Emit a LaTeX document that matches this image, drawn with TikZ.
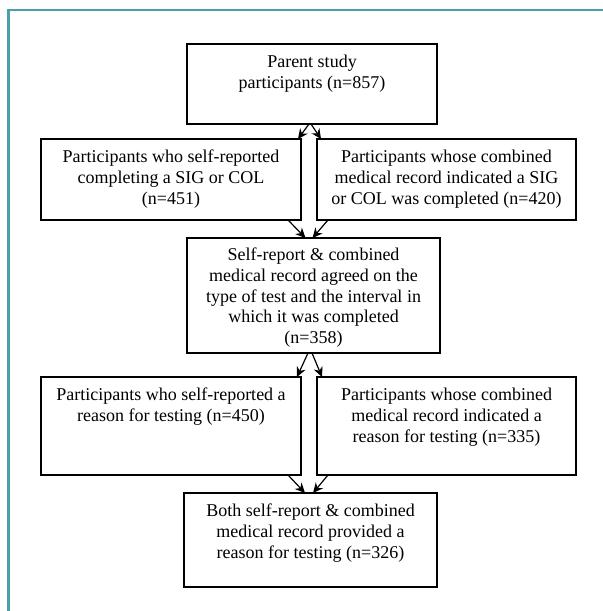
\documentclass[tikz,border=0pt]{standalone}
\usepackage{fontspec}
\setmainfont{Liberation Serif}
\usetikzlibrary{calc,arrows.meta}
\definecolor{frameteal}{RGB}{74,160,170}
\tikzset{
  box/.style={draw=black, line width=1.5pt, rectangle, inner sep=0pt, outer sep=0pt},
  txt/.style={anchor=north, inner sep=0pt, align=center, font=\fontsize{13.5pt}{15.5pt}\selectfont},
  arr/.style={line width=0.9pt, -{Stealth[length=7.5pt,width=7pt]}},
}
\begin{document}
\begin{tikzpicture}[x=0.75pt,y=-0.75pt]
\useasboundingbox (0,0) rectangle (603,611);
\fill[white] (0,0) rectangle (603,611);
\draw[frameteal, line width=1.6pt] (8.5,611) -- (8.5,10) -- (603,10);

\node[box, minimum width=187.5pt, minimum height=60pt] (b1) at (312,84) {};
\node[box, minimum width=195pt, minimum height=60.75pt] (b2L) at (171,179.5) {};
\node[box, minimum width=194.25pt, minimum height=60.75pt] (b2R) at (446.5,179.5) {};
\node[box, minimum width=189.75pt, minimum height=86.25pt] (b3) at (313.5,295.5) {};
\node[box, minimum width=195pt, minimum height=73.5pt] (b4L) at (171,426) {};
\node[box, minimum width=194.25pt, minimum height=73.5pt] (b4R) at (446.5,426) {};
\node[box, minimum width=189.75pt, minimum height=70.5pt] (b5) at (310.5,540) {};

\node[txt] (t1) at ($(b1.north)+(0,11)$) {Parent study\\participants (n=857)};
\node[txt] (t2L) at ($(b2L.north)+(0,11)$) {Participants who self-reported\\completing a SIG or COL\\(n=451)};
\node[txt] (t2R) at ($(b2R.north)+(0,11)$) {Participants whose combined\\medical record indicated a SIG\\or COL was completed (n=420)};
\node[txt] (t3) at ($(b3.north)+(0,10)$) {Self-report \& combined\\medical record agreed on the\\type of test and the interval in\\which it was completed\\(n=358)};
\node[txt] (t4L) at ($(b4L.north)+(0,11)$) {Participants who self-reported a\\reason for testing (n=450)};
\node[txt] (t4R) at ($(b4R.north)+(0,11)$) {Participants whose combined\\medical record indicated a\\reason for testing (n=335)};
\node[txt] (t5) at ($(b5.north)+(0,11)$) {Both self-report \& combined\\medical record provided a\\reason for testing (n=326)};

\draw[arr] ($(b1.south)+(-3,0)$) -- ($(b2L.north east)+(-3,0)$);
\draw[arr] ($(b1.south)+(-1,0)$) -- ($(b2R.north west)+(4,0)$);
\draw[arr] ($(b2L.south east)+(-13,0)$) -- ($(b3.north)+(-8,0)$);
\draw[arr] ($(b2R.south west)+(11,0)$) -- ($(b3.north)+(-1,0)$);
\draw[arr] ($(b3.south)+(-5.5,0)$) -- ($(b4L.north east)+(-4,0)$);
\draw[arr] ($(b3.south)+(-1.5,0)$) -- ($(b4R.north west)+(5,0)$);
\draw[arr] ($(b4L.south east)+(-13,0)$) -- ($(b5.north)+(-5.5,0)$);
\draw[arr] ($(b4R.south west)+(11,0)$) -- ($(b5.north)+(2.5,0)$);
\end{tikzpicture}
\end{document}
